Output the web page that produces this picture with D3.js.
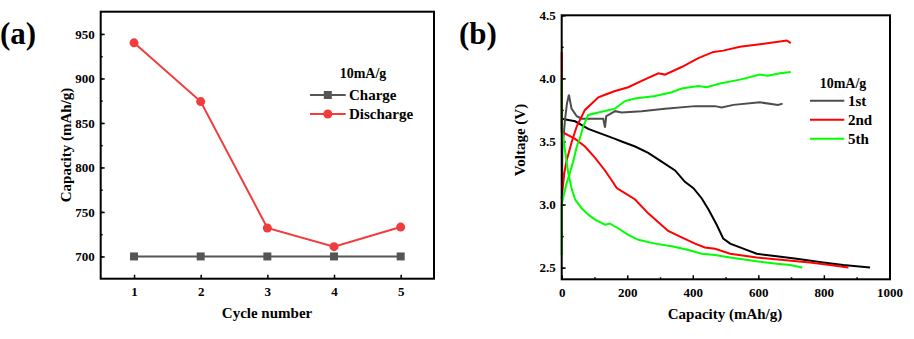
<!DOCTYPE html>
<html>
<head>
  <meta charset="utf-8">
  <title>Capacity and voltage profiles</title>
  <script src="https://d3js.org/d3.v7.min.js"></script>
  <style>
    body{margin:0;background:#fff;}
    text{font-family:"Liberation Serif","Times New Roman",serif;font-weight:bold;fill:#000;}
  </style>
</head>
<body>
  <script>
      // panel (a) data
      var cycles=[1,2,3,4,5];
      var chargeCap=[700,700,700,700,700];
      var dischargeCap=[940,874,732,711,733];
      var capTicks=[700,750,800,850,900,950];

      // panel (b) data: capacity (mAh/g) vs voltage (V)
      var dis1Cap=[0,20,41,81,122,163,183,224,264,305,346,376,402,427,448,473,493,514,554,595,656,717,798,859,941];
      var dis1V=[3.68,3.67,3.66,3.60,3.56,3.52,3.50,3.46,3.41,3.34,3.27,3.18,3.13,3.05,2.96,2.84,2.73,2.69,2.65,2.61,2.59,2.57,2.54,2.52,2.50];
      var chg1Cap=[1,2,6,10,16,22,30,46,61,127,132,136,143,163,183,244,315,407,468,488,524,605,660,674];
      var chg1V=[3.15,3.45,3.55,3.67,3.80,3.87,3.76,3.70,3.68,3.68,3.61,3.70,3.71,3.74,3.73,3.74,3.76,3.78,3.78,3.77,3.79,3.81,3.79,3.80];
      var dis2Cap=[0,0,5,41,71,102,132,153,168,193,224,264,295,325,366,407,437,468,514,595,676,758,819,875];
      var dis2V=[4.21,3.58,3.57,3.52,3.46,3.37,3.27,3.19,3.13,3.09,3.04,2.93,2.86,2.79,2.74,2.69,2.66,2.65,2.61,2.58,2.56,2.54,2.52,2.50];
      var chg2Cap=[0,8,15,31,46,71,112,132,163,203,244,295,315,366,417,463,493,544,605,687,699];
      var chg2V=[3.05,3.25,3.35,3.50,3.62,3.75,3.85,3.87,3.90,3.93,3.98,4.04,4.03,4.09,4.16,4.21,4.22,4.25,4.27,4.30,4.28];
      var dis5Cap=[0,0,1,10,20,31,41,61,81,102,132,147,173,203,234,285,336,387,427,468,514,595,656,697,734];
      var dis5V=[4.00,3.62,3.59,3.43,3.25,3.12,3.04,2.97,2.92,2.88,2.84,2.85,2.81,2.76,2.72,2.69,2.67,2.64,2.61,2.60,2.58,2.55,2.53,2.52,2.50];
      var chg5Cap=[0,0,5,15,25,36,46,56,66,81,112,163,193,224,285,336,366,417,442,483,544,605,630,666,699];
      var chg5V=[2.60,3.00,3.06,3.17,3.25,3.35,3.46,3.53,3.62,3.71,3.73,3.76,3.82,3.84,3.86,3.89,3.92,3.94,3.93,3.96,3.99,4.03,4.02,4.04,4.05];
      var voltTicks=[2.5,3.0,3.5,4.0,4.5];
      var capXTicks=[0,200,400,600,800,1000];

      var w=914,h=339;
      var svg=d3.select("body").append("svg").attr("width",w).attr("height",h);

      function zip(a,b){ return a.map(function(v,i){return [v,b[i]];}); }

      // ---------- panel (a) ----------
      var xa=d3.scaleLinear().domain([0.5,5.5]).range([100.7,434]);
      var ya=d3.scaleLinear().domain([675,975]).range([278.7,11.7]);
      var ga=svg.append("g");

      ga.append("g").attr("transform","translate(100.7,0)")
        .call(d3.axisLeft(ya).tickValues(d3.range(700,975,25)).tickSize(-2).tickFormat(""))
        .call(function(g){g.select(".domain").remove();});
      ga.append("g").attr("transform","translate(100.7,0)")
        .call(d3.axisLeft(ya).tickValues(capTicks).tickSize(-4).tickPadding(6))
        .call(function(g){g.select(".domain").remove();});
      ga.append("g").attr("transform","translate(0,278.7)")
        .call(d3.axisBottom(xa).tickValues(cycles).tickSize(-4).tickPadding(8).tickFormat(d3.format("d")))
        .call(function(g){g.select(".domain").remove();});
      ga.selectAll(".tick text").style("font-size","13px").style("font-family","Liberation Serif").style("font-weight","bold");
      ga.selectAll(".tick line").attr("stroke","#000").attr("stroke-width",1.5);

      var lineA=d3.line().x(function(d){return xa(d[0]);}).y(function(d){return ya(d[1]);});
      ga.append("path").datum(zip(cycles,chargeCap)).attr("d",lineA)
        .attr("fill","none").attr("stroke","#555555").attr("stroke-width",2);
      ga.selectAll("rect.pt").data(zip(cycles,chargeCap)).enter().append("rect")
        .attr("class","pt")
        .attr("x",function(d){return xa(d[0])-4;}).attr("y",function(d){return ya(d[1])-4;})
        .attr("width",8).attr("height",8).attr("fill","#555555");
      ga.append("path").datum(zip(cycles,dischargeCap)).attr("d",lineA)
        .attr("fill","none").attr("stroke","#f03c3c").attr("stroke-width",2);
      ga.selectAll("circle.pt").data(zip(cycles,dischargeCap)).enter().append("circle")
        .attr("class","pt")
        .attr("cx",function(d){return xa(d[0]);}).attr("cy",function(d){return ya(d[1]);})
        .attr("r",4.5).attr("fill","#f03c3c");

      ga.append("rect").attr("x",100.7).attr("y",11.7).attr("width",333.3).attr("height",267)
        .attr("fill","none").attr("stroke","#000").attr("stroke-width",2);

      // legend (a)
      ga.append("text").attr("x",363).attr("y",78).attr("text-anchor","middle").style("font-size","14px").text("10mA/g");
      ga.append("line").attr("x1",310).attr("x2",345.7).attr("y1",95).attr("y2",95).attr("stroke","#555555").attr("stroke-width",2);
      ga.append("rect").attr("x",323.8).attr("y",91).attr("width",8).attr("height",8).attr("fill","#555555");
      ga.append("text").attr("x",349).attr("y",100).style("font-size","15px").text("Charge");
      ga.append("line").attr("x1",310).attr("x2",345.7).attr("y1",114).attr("y2",114).attr("stroke","#f03c3c").attr("stroke-width",2);
      ga.append("circle").attr("cx",327.8).attr("cy",114).attr("r",4.5).attr("fill","#f03c3c");
      ga.append("text").attr("x",349).attr("y",119).style("font-size","15px").text("Discharge");

      ga.append("text").attr("x",267).attr("y",318).attr("text-anchor","middle").style("font-size","15px").text("Cycle number");
      ga.append("text").attr("transform","translate(71,145) rotate(-90)").attr("text-anchor","middle").style("font-size","15px").text("Capacity (mAh/g)");
      ga.append("text").attr("x",0).attr("y",44).style("font-size","31px").text("(a)");

      // ---------- panel (b) ----------
      var xb=d3.scaleLinear().domain([0,1000]).range([561.7,889.4]);
      var yb=d3.scaleLinear().domain([2.5,4.5]).range([267.6,15.3]);
      var gb=svg.append("g");

      gb.append("g").attr("transform","translate(561.7,0)")
        .call(d3.axisLeft(yb).tickValues(d3.range(2.5,4.51,0.25)).tickSize(-2).tickFormat(""))
        .call(function(g){g.select(".domain").remove();});
      gb.append("g").attr("transform","translate(561.7,0)")
        .call(d3.axisLeft(yb).tickValues(voltTicks).tickSize(-4).tickPadding(6).tickFormat(d3.format(".1f")))
        .call(function(g){g.select(".domain").remove();});
      gb.append("g").attr("transform","translate(0,279.3)")
        .call(d3.axisBottom(xb).tickValues(d3.range(100,1000,200)).tickSize(-2).tickFormat(""))
        .call(function(g){g.select(".domain").remove();});
      gb.append("g").attr("transform","translate(0,279.3)")
        .call(d3.axisBottom(xb).tickValues(capXTicks).tickSize(-4).tickPadding(8).tickFormat(d3.format("d")))
        .call(function(g){g.select(".domain").remove();});
      gb.selectAll(".tick text").style("font-size","13px").style("font-family","Liberation Serif").style("font-weight","bold");
      gb.selectAll(".tick line").attr("stroke","#000").attr("stroke-width",1.5);

      var lineB=d3.line().x(function(d){return xb(d[0]);}).y(function(d){return yb(d[1]);});
      var curves=[
        {cap:dis1Cap,v:dis1V,color:"#000000"},
        {cap:chg1Cap,v:chg1V,color:"#4d4d4d"},
        {cap:dis2Cap,v:dis2V,color:"#ff0000"},
        {cap:chg2Cap,v:chg2V,color:"#ff0000"},
        {cap:dis5Cap,v:dis5V,color:"#00ff00"},
        {cap:chg5Cap,v:chg5V,color:"#00ff00"}
      ];
      gb.selectAll("path.curve").data(curves).enter().append("path")
        .attr("class","curve")
        .attr("d",function(d){return lineB(zip(d.cap,d.v));})
        .attr("fill","none").attr("stroke",function(d){return d.color;}).attr("stroke-width",2);

      gb.append("rect").attr("x",561.7).attr("y",15.3).attr("width",328.3).attr("height",264)
        .attr("fill","none").attr("stroke","#000").attr("stroke-width",2);

      // legend (b)
      gb.append("text").attr("x",843).attr("y",88).attr("text-anchor","middle").style("font-size","14px").text("10mA/g");
      var legB=[{t:"1st",c:"#4d4d4d",y:100.7},{t:"2nd",c:"#ff0000",y:119.7},{t:"5th",c:"#00ff00",y:138.7}];
      legB.forEach(function(l){
        gb.append("line").attr("x1",810).attr("x2",844.3).attr("y1",l.y).attr("y2",l.y).attr("stroke",l.c).attr("stroke-width",2);
        gb.append("text").attr("x",848).attr("y",l.y+5).style("font-size","15px").text(l.t);
      });

      gb.append("text").attr("x",725).attr("y",319).attr("text-anchor","middle").style("font-size","15px").text("Capacity (mAh/g)");
      gb.append("text").attr("transform","translate(525,140) rotate(-90)").attr("text-anchor","middle").style("font-size","15px").text("Voltage (V)");
      gb.append("text").attr("x",459).attr("y",44).style("font-size","31px").text("(b)");
  </script>
</body>
</html>
